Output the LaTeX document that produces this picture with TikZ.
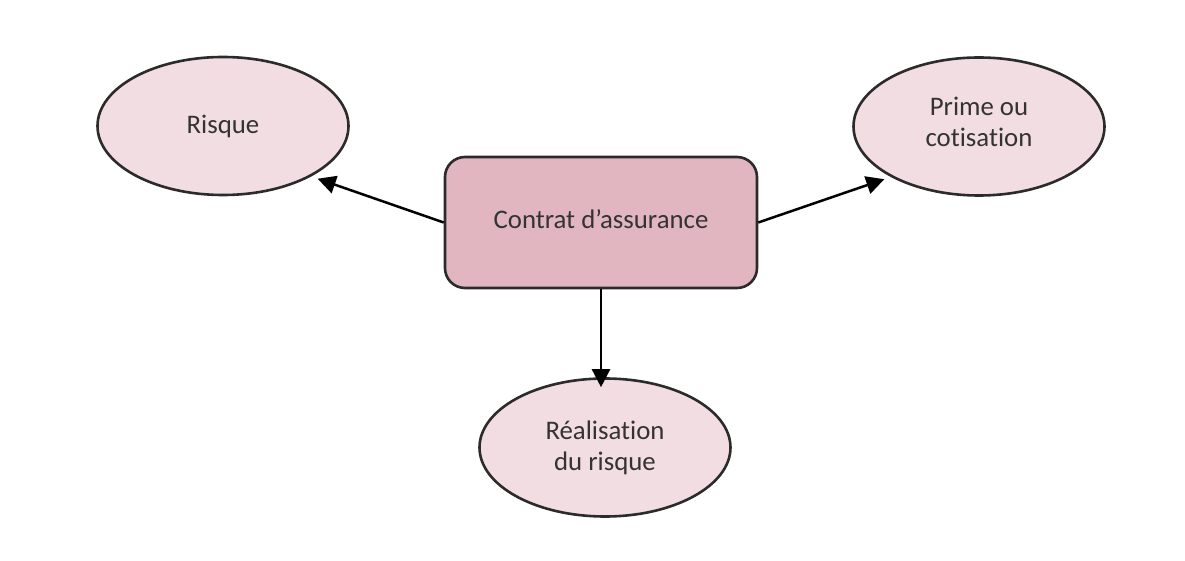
\documentclass[tikz,border=0pt]{standalone}
\usepackage{fontspec}
\setmainfont[RawFeature=-liga]{Carlito}
\usetikzlibrary{shapes.geometric,arrows.meta}
\definecolor{rectfill}{HTML}{E1B6C1}
\definecolor{ellfill}{HTML}{F1DDE2}
\definecolor{edge}{HTML}{2B2B2B}
\definecolor{txt}{HTML}{333333}
\tikzset{
  oval/.style={ellipse, draw=edge, line width=1.3pt, fill=ellfill, minimum width=125.5pt, minimum height=69pt, inner sep=0pt, align=center, text=txt, font=\fontsize{13.4}{15.5}\selectfont},
  box/.style={rectangle, rounded corners=10pt, draw=edge, line width=1.3pt, fill=rectfill, minimum width=156pt, minimum height=65.5pt, align=center, text=txt, font=\fontsize{13.4}{15.5}\selectfont},
  conn/.style={line width=1.25pt, black, -{Triangle[length=9pt,width=9pt]}}
}
\begin{document}
\begin{tikzpicture}[x=0.5pt,y=-0.5pt]
\useasboundingbox (0,0) rectangle (1185,561);
\node[box] (c) at (601,222.5) {\raisebox{3pt}{Contrat d’assurance}};
\node[oval] (r) at (223,126) {Risque};
\node[oval] (p) at (979,126.5) {Prime ou\\cotisation\\[-11pt]\mbox{}};
\node[oval] (q) at (605,447.5) {Réalisation\\du risque};
\draw[conn] (c.west) -- ([shift={(5,3)}]r.-29);
\draw[conn] (c.east) -- ([shift={(-5,3)}]p.-151);
\draw[conn] (c.south) -- ([yshift=-5pt]c.south |- q.north);
\end{tikzpicture}
\end{document}
